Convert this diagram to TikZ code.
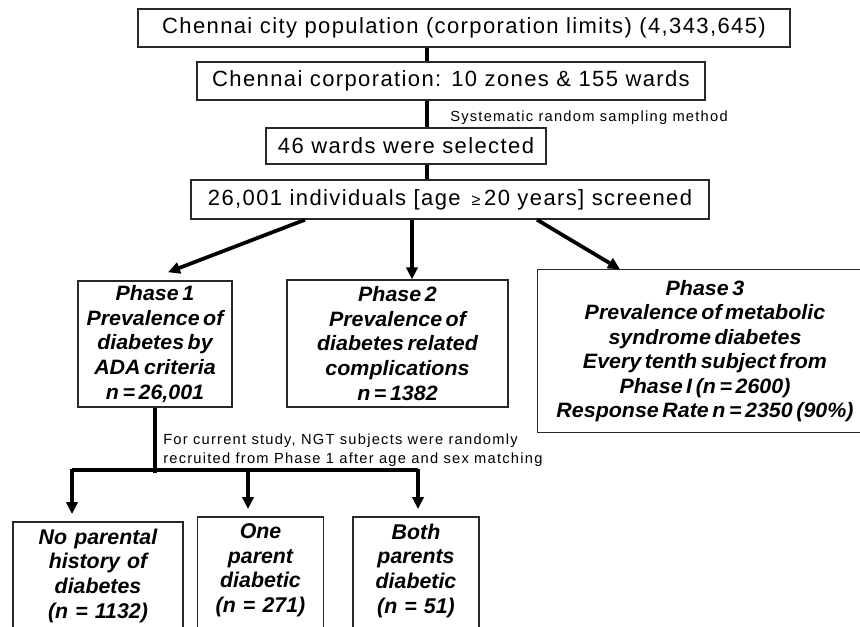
\documentclass[tikz,border=0pt]{standalone}
\usepackage{fontspec}
\setmainfont{Liberation Sans}
\newfontfamily\stagefont[LetterSpace=6.3]{Liberation Sans}
\newfontfamily\notefont[LetterSpace=8.5]{Liberation Sans}
\newfontfamily\phasefont[FakeStretch=1.03,WordSpace=0.6]{Liberation Sans}
\newfontfamily\groupfont[WordSpace=0.6]{Liberation Sans}
\usetikzlibrary{arrows.meta, positioning, calc}
\definecolor{boxgray}{RGB}{40, 40, 40}

\tikzset{
    boxline/.style={draw=boxgray, line width=1.1pt},
    stagebox/.style={boxline, inner sep=0pt,
        font=\stagefont\fontsize{16.5}{18}\selectfont},
    phasebox/.style={boxline, inner sep=0pt, align=center,
        font=\phasefont\bfseries\itshape\fontsize{15.6}{18.4}\selectfont},
    groupbox/.style={inner sep=5pt, anchor=north, align=center,
        font=\groupfont\bfseries\itshape\fontsize{16}{18.4}\selectfont},
    note/.style={inner sep=0pt, align=left,
        font=\notefont\fontsize{11}{14}\selectfont},
    flow/.style={line width=2.8pt},
    flowarrow/.style={flow, -{Triangle[length=9pt, width=8.5pt]}},
}

\begin{document}
\begin{tikzpicture}[x=0.75pt, y=-0.75pt]
    \useasboundingbox (0,0) rectangle (860,626);
    \clip (0,0) rectangle (860,626);

    % sampling stages
    \node[stagebox, minimum width=489pt, minimum height=28.5pt] (pop) at (464,28)
        {Chennai city population (corporation limits) (4,343,645)};
    \node[stagebox, minimum width=381pt, minimum height=28.5pt] (corp) at (451,81)
        {Chennai corporation: 10 zones \& 155 wards};
    \node[stagebox, minimum width=210pt, minimum height=27pt] (wards) at (406,146)
        {46 wards were selected};
    \node[stagebox, minimum width=388.5pt, minimum height=29.25pt] (screen) at (450,199.5)
        {26,001 individuals [age\enspace{\fontsize{12}{12}\selectfont ≥}\,20 years] screened};

    \coordinate (trunk) at (427,0);
    \draw[flow] (trunk |- pop.south) -- (trunk |- corp.north);
    \draw[flow] (trunk |- corp.south) -- (trunk |- wards.north);
    \draw[flow] (trunk |- wards.south) -- (trunk |- screen.north);
    \node[note, anchor=west] (sampling) at (450,118) {Systematic random sampling method};

    % three phases
    \node[phasebox, minimum width=115.5pt, minimum height=94.5pt] (phase1) at (155,344)
        {Phase 1\\Prevalence of\\diabetes by\\ADA criteria\\n = 26,001};
    \node[phasebox, minimum width=165.75pt, minimum height=95.25pt] (phase2) at (397.5,343.5)
        {Phase 2\\Prevalence of\\diabetes related\\complications\\n = 1382};
    \node[phasebox, draw=none, minimum width=250.5pt, minimum height=121.5pt] (phase3) at (705,351)
        {Phase 3\\Prevalence of metabolic\\syndrome diabetes\\Every tenth subject from\\Phase I (n = 2600)\\Response Rate n = 2350 (90\%)};
    \draw[boxline] (phase3.north west) rectangle ([xshift=40pt]phase3.south east);

    \coordinate (leftStart) at ($(screen.south)+(-145,0)$);
    \coordinate (midStart) at ($(screen.south)+(-38,0)$);
    \coordinate (rightStart) at ($(screen.south)+(87,0)$);
    \draw[flowarrow] (leftStart) -- ($(phase1.north)+(13,-8)$);
    \draw[flowarrow] (midStart) -- (midStart |- phase2.north);
    \draw[flowarrow] (rightStart) -- ($(phase3.north)+(-85,0)$);

    % NGT subjects by parental history
    \node[groupbox, text width=117pt] (noHist) at (98,522)
        {No parental\\history of\\diabetes\\(n = 1132)};
    \node[groupbox, text width=84pt] (oneParent) at (260.5,517)
        {One\\parent\\diabetic\\(n = 271)};
    \node[groupbox, text width=84pt] (bothParents) at (416,517)
        {Both\\parents\\diabetic\\(n = 51)};
    \foreach \g in {noHist, oneParent, bothParents}
        \draw[boxline] (\g.north west) rectangle ([yshift=-20pt]\g.south east);

    \node[note, anchor=west] (ngt) at (163,450.5)
        {For current study, NGT subjects were randomly\\recruited from Phase 1 after age and sex matching};

    \coordinate (split) at (155,470);
    \coordinate (dropA) at (72,470);
    \coordinate (dropB) at (248,470);
    \coordinate (dropC) at (418,470);
    \draw[flow] (phase1.south) -- ($(split)+(0,3)$);
    \draw[flow] (dropA) -- (dropC);
    \foreach \d/\g in {dropA/noHist, dropB/oneParent, dropC/bothParents}
        \draw[flowarrow] ([yshift=1.05pt]\d) -- ([yshift=6pt]\d |- \g.north);
\end{tikzpicture}
\end{document}
